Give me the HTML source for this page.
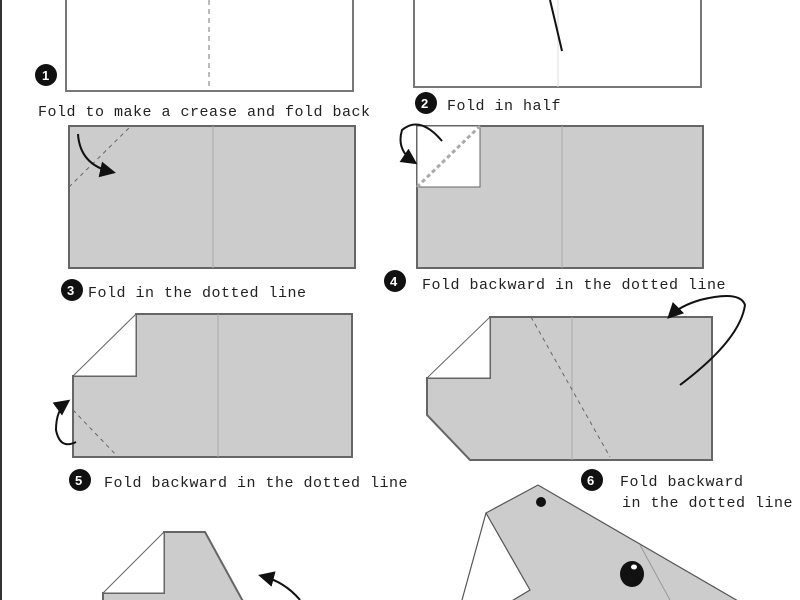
<!DOCTYPE html>
<html><head><style>body{margin:0;background:#fff}svg{display:block}text{font-family:"Liberation Mono",monospace;font-size:15px;fill:#222;letter-spacing:0.5px}</style></head><body>
<svg width="800" height="600" viewBox="0 0 800 600">
<defs><marker id="a" markerWidth="8" markerHeight="8" refX="6" refY="4" orient="auto"><path d="M0,0 L8,4 L0,8 z" fill="#111"/></marker></defs>
<rect x="0" y="0" width="2" height="600" fill="#333"/>
<!-- step1 -->
<rect x="66" y="-5" width="287" height="96" fill="#fff" stroke="#777" stroke-width="2"/>
<line x1="209" y1="0" x2="209" y2="90" stroke="#777" stroke-dasharray="5,4"/>
<circle cx="46" cy="75" r="11" fill="#111"/><text x="42" y="80" style="fill:#fff;font-weight:bold;font-size:13px;font-family:'Liberation Sans'">1</text>
<text x="38" y="116">Fold to make a crease and fold back</text>
<!-- step2 -->
<rect x="414" y="-5" width="287" height="92" fill="#fff" stroke="#777" stroke-width="2"/>
<line x1="558" y1="0" x2="558" y2="87" stroke="#ddd"/>
<path d="M550,0 Q556,25 562,51" fill="none" stroke="#111" stroke-width="2"/>
<circle cx="426" cy="103" r="11" fill="#111"/><text x="421" y="108" style="fill:#fff;font-weight:bold;font-size:13px;font-family:'Liberation Sans'">2</text>
<text x="447" y="110">Fold in half</text>
<!-- step3 -->
<rect x="69" y="126" width="286" height="142" fill="#ccc" stroke="#666" stroke-width="2"/>
<line x1="213" y1="126" x2="213" y2="268" stroke="#aaa"/>
<line x1="69" y1="187" x2="131" y2="126" stroke="#666" stroke-dasharray="4,4"/>
<path d="M78,134 Q80,165 112,172" fill="none" stroke="#111" stroke-width="2" marker-end="url(#a)"/>
<circle cx="72" cy="290" r="11" fill="#111"/><text x="67" y="295" style="fill:#fff;font-weight:bold;font-size:13px;font-family:'Liberation Sans'">3</text>
<text x="88" y="297">Fold in the dotted line</text>
<!-- step4 -->
<rect x="417" y="126" width="286" height="142" fill="#ccc" stroke="#666" stroke-width="2"/>
<rect x="417" y="126" width="63" height="61" fill="#fff" stroke="#666"/>
<line x1="417" y1="187" x2="480" y2="126" stroke="#aaa" stroke-width="3" stroke-dasharray="4,3"/>
<line x1="562" y1="126" x2="562" y2="268" stroke="#aaa"/>
<path d="M442,141 Q420,115 402,130 Q396,150 414,162" fill="none" stroke="#111" stroke-width="2" marker-end="url(#a)"/>
<circle cx="395" cy="281" r="11" fill="#111"/><text x="390" y="286" style="fill:#fff;font-weight:bold;font-size:13px;font-family:'Liberation Sans'">4</text>
<text x="422" y="289">Fold backward in the dotted line</text>
<!-- step5 -->
<polygon points="136,314 352,314 352,457 73,457 73,376 136,376" fill="#ccc" stroke="#666" stroke-width="2"/>
<polygon points="73,376 136,314 136,376" fill="#fff" stroke="#666"/>
<line x1="218" y1="314" x2="218" y2="457" stroke="#aaa"/>
<line x1="73" y1="410" x2="118" y2="457" stroke="#666" stroke-dasharray="4,4"/>
<path d="M56,442 Q40,450 36,430 Q36,410 47,402" fill="none" stroke="#111" stroke-width="2" marker-end="url(#a)" transform="translate(20,0)"/>
<circle cx="80" cy="480" r="11" fill="#111"/><text x="75" y="485" style="fill:#fff;font-weight:bold;font-size:13px;font-family:'Liberation Sans'">5</text>
<text x="104" y="487">Fold backward in the dotted line</text>
<!-- step6 -->
<polygon points="490,317 712,317 712,460 470,460 427,415 427,378 490,378" fill="#ccc" stroke="#666" stroke-width="2"/>
<polygon points="427,378 490,317 490,378" fill="#fff" stroke="#666"/>
<line x1="572" y1="317" x2="572" y2="460" stroke="#aaa"/>
<line x1="531" y1="317" x2="610" y2="457" stroke="#666" stroke-dasharray="4,4"/>
<path d="M680,385 Q740,340 745,305 Q740,290 700,300 Q680,306 670,316" fill="none" stroke="#111" stroke-width="2" marker-end="url(#a)"/>
<circle cx="592" cy="480" r="11" fill="#111"/><text x="587" y="485" style="fill:#fff;font-weight:bold;font-size:13px;font-family:'Liberation Sans'">6</text>
<text x="620" y="486">Fold backward</text>
<text x="622" y="507">in the dotted line</text>
<!-- step7 -->
<polygon points="164,532 205,532 245,605 103,605 103,593 164,593" fill="#ccc" stroke="#666" stroke-width="2"/>
<polygon points="103,593 164,532 164,593" fill="#fff" stroke="#666"/>
<path d="M300,600 Q285,582 262,576" fill="none" stroke="#111" stroke-width="2" marker-end="url(#a)"/>
<!-- step8 -->
<polygon points="486,513 538,485 745,605 505,605 530,590" fill="#ccc" stroke="#555" stroke-width="1.2"/>
<line x1="486" y1="513" x2="462" y2="600" stroke="#555" stroke-width="1.2"/>
<line x1="640" y1="545" x2="670" y2="600" stroke="#999"/>
<circle cx="541" cy="502" r="5" fill="#111"/>
<ellipse cx="632" cy="574" rx="12" ry="13" fill="#111"/>
<ellipse cx="634" cy="567" rx="3" ry="2.5" fill="#fff"/>
</svg>
</body></html>
